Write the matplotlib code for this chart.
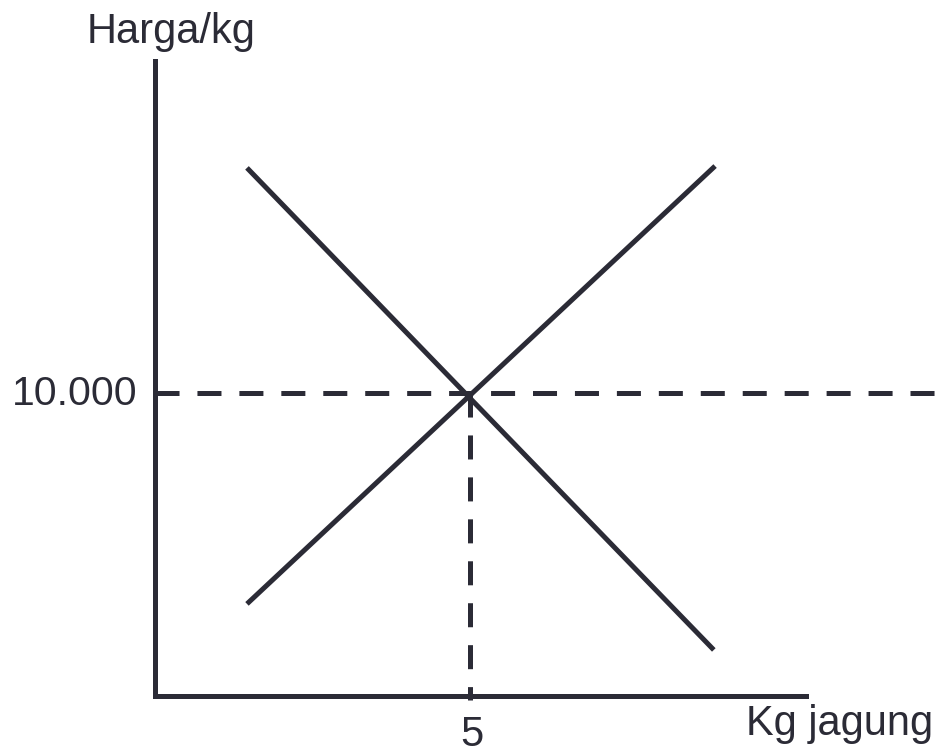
import matplotlib
matplotlib.use("Agg")
import matplotlib.pyplot as plt

# values (quantity in kg, price per kg)
demand_q = [1.46, 8.87]
demand_p = [17430, 1520]
supply_q = [1.46, 8.89]
supply_p = [3040, 17490]
eq_q = 5
eq_p = 10000
x_tick_label = "5"
y_tick_label = "10.000"
x_label = "Kg jagung"
y_label = "Harga/kg"

INK = "#2b2b36"
plt.rcParams["font.family"] = ["Liberation Sans", "DejaVu Sans"]
plt.rcParams["lines.scale_dashes"] = False

fig = plt.figure(figsize=(9.42, 7.53), dpi=100)
ax = fig.add_axes([0, 0, 1, 1])
ax.set_xlim(-155 / 63, 787 / 63)
ax.set_ylim(-57 / 303 * 1e4, 696 / 303 * 1e4)
ax.axis("off")

lw = 3.6
dash = (0, (17.3, 12.9))

# axes
ax.plot([0, 0], [0, 20950], color=INK, lw=lw, solid_capstyle="projecting")
ax.plot([0, 10.33], [0, 0], color=INK, lw=lw, solid_capstyle="projecting")

# guide lines at equilibrium
ax.plot([0, 13], [eq_p, eq_p], color=INK, lw=lw, linestyle=dash,
        dash_capstyle="butt")
ax.plot([eq_q, eq_q], [eq_p, -130], color=INK, lw=lw, linestyle=dash,
        dash_capstyle="butt")

# demand and supply
ax.plot(demand_q, demand_p, color=INK, lw=lw, solid_capstyle="butt")
ax.plot(supply_q, supply_p, color=INK, lw=lw, solid_capstyle="butt")

ax.text(16.5 / 63, 21550, y_label, fontsize=30, color=INK,
        ha="center", va="baseline")
ax.text(-18 / 63, 9604, y_tick_label, fontsize=29.5, color=INK,
        ha="right", va="baseline")
ax.text(eq_q + 0.03, -1650, x_tick_label, fontsize=30, color=INK,
        ha="center", va="baseline")
ax.text(778 / 63, -1287, x_label, fontsize=30, color=INK,
        ha="right", va="baseline")

fig.savefig("out.png", dpi=100, facecolor="white")
